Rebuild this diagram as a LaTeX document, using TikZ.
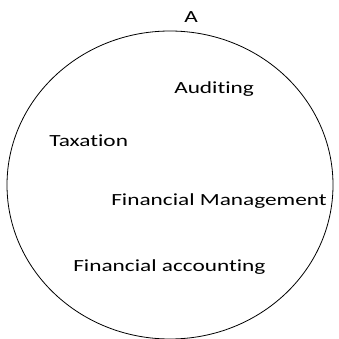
\documentclass[tikz,border=0pt]{standalone}
\usepackage{fontspec}
\setmainfont[Ligatures=CommonOff]{Carlito}
\usetikzlibrary{positioning}

\begin{document}
\begin{tikzpicture}[x=1pt, y=-1pt,
        lbl/.style={anchor=base west, inner sep=0pt, font=\fontsize{17}{20}\selectfont, xscale=1.37, transform shape},
        setline/.style={draw=black, line width=0.8pt}
    ]
    \useasboundingbox (0,0) rectangle (338,339);

    %% ---- set A ----
    \draw[setline] (170,185) ellipse [x radius=163, y radius=154];
    \node[lbl] (setA) at (184,23) {A};

    %% ---- members ----
    \node[lbl] (audit) at (174,94) {Auditing};
    \node[lbl] (tax)   at (49,146.5) {Taxation};
    \node[lbl] (fm)    at (111,205) {Financial Management};
    \node[lbl] (fa)    at (73,271.5) {Financial accounting};

\end{tikzpicture}
\end{document}
